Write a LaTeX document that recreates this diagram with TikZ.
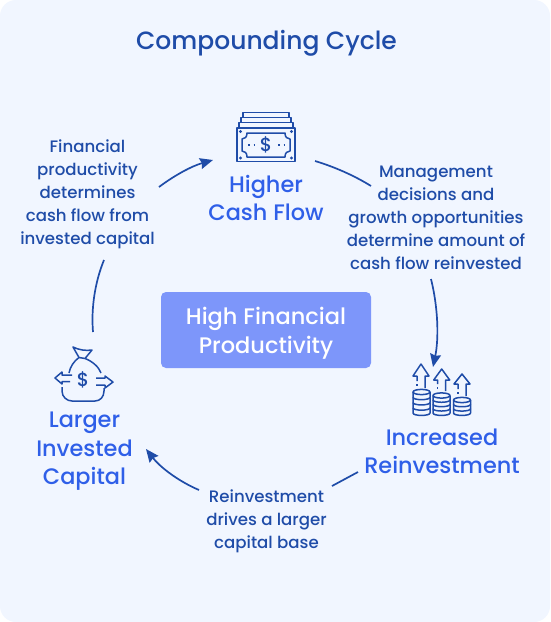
\documentclass[tikz,border=0pt]{standalone}
\usepackage{fontspec}
\setmainfont{Poppins}[UprightFont=* Medium]
\usetikzlibrary{arrows.meta}
\definecolor{bgc}{HTML}{F1F6FF}
\definecolor{navy}{HTML}{1F4CA8}
\definecolor{blu}{HTML}{2F5FE8}
\definecolor{boxc}{HTML}{7D96FA}
\tikzset{
 lab/.style={align=center,text=navy,font=\fontsize{16.6}{23}\selectfont,inner sep=0pt},
 big/.style={align=center,text=blu,font=\fontsize{22.4}{28.5}\selectfont,inner sep=0pt},
 ico/.style={draw=navy,line width=1.5pt,line join=round},
 cyc/.style={draw=navy,line width=1.7pt,-{Stealth[length=13pt,width=11pt,inset=1.5pt]}},
 cycn/.style={draw=navy,line width=1.7pt},
 dollar/.style={text=navy,font=\fontsize{19}{19}\selectfont,inner sep=0pt}
}
\newcommand{\coinstack}[4]{% cx, top y, bottom y, n
 \pgfmathsetmacro{\bandh}{(#3-#2)/#4}
 \draw[ico,fill=bgc] (#1,#2) ellipse (8.5pt and 2.6pt);
 \foreach \k in {1,...,#4}{
  \pgfmathsetmacro{\ya}{#2+(\k-1)*\bandh}
  \pgfmathsetmacro{\yb}{#2+\k*\bandh}
  \draw[ico] ({#1-8.5},\ya) -- ({#1-8.5},\yb) .. controls ({#1-8.5},{\yb+3.2}) and ({#1+8.5},{\yb+3.2}) .. ({#1+8.5},\yb) -- ({#1+8.5},\ya);
 }
}
\newcommand{\growarrow}[5]{% cx, tip y, wing y, right stem end, left stem end
 \draw[ico] ({#1-4},#5) -- ({#1-4},#3) -- ({#1-8},#3) -- (#1,#2) -- ({#1+8},#3) -- ({#1+4},#3) -- ({#1+4},#4);
 \draw[ico] ({#1-4},{#5+3}) -- ({#1-4},{#5+5});
}
\begin{document}
\begin{tikzpicture}[x=1pt,y=-1pt]
\useasboundingbox (0,0) rectangle (550,622);
\fill[white] (0,0) rectangle (550,622);
\fill[bgc,rounded corners=16pt] (0,0) rectangle (550,622);
\node[text=navy,font=\fontsize{25}{30}\selectfont,inner sep=0pt] (title) at (266.5,43) {Compounding Cycle};
\node[fill=boxc,rounded corners=5pt,minimum width=210pt,minimum height=76pt,inner sep=0pt] (center) at (266,330) {};
\node[align=center,text=white,inner sep=0pt,font=\fontsize{22.5}{28.5}\selectfont] (centertext) at (266,333) {High Financial\\Productivity};
\node[big] (hcf) at (266,198) {Higher\\Cash Flow};
\node[big] (inv) at (442,451.5) {Increased\\Reinvestment};
\node[big] (cap) at (84.5,451.5) {Larger\\Invested\\Capital};
\node[lab] (l1) at (87.5,194) {Financial\\productivity\\determines\\cash flow from\\invested capital};
\node[lab] (l2) at (436,217.5) {Management\\decisions and\\growth opportunities\\determine amount of\\cash flow reinvested};
\node[lab] (l3) at (266.5,521) {Reinvestment\\drives a larger\\capital base};
% cycle arrows
\coordinate (a1s) at (93,332); \coordinate (a1e) at (104,260);
\draw[cycn] (a1s) .. controls (91,308) and (95,282) .. (a1e);
\coordinate (a2s) at (159,187); \coordinate (a2e) at (213,160);
\draw[cyc] (a2s) .. controls (175,175) and (192,166) .. (a2e);
\coordinate (a3s) at (315,161); \coordinate (a3e) at (371,186);
\draw[cycn] (a3s) .. controls (335,167) and (355,176) .. (a3e);
\coordinate (a4s) at (431,279); \coordinate (a4e) at (433,367);
\draw[cyc] (a4s) .. controls (438,307) and (439,338) .. (a4e);
\coordinate (a5s) at (358,472); \coordinate (a5e) at (332,486);
\draw[cycn] (a5s) -- (a5e);
\coordinate (a6s) at (199,490); \coordinate (a6e) at (146,449);
\draw[cyc] (a6s) .. controls (178,481) and (160,467) .. (a6e);
% cash icon
\begin{scope}[ico]
\draw (243,118) -- (243,112.5) -- (289,112.5) -- (289,118);
\draw (241,122) -- (241,117.5) -- (291,117.5) -- (291,122);
\draw (239,128) -- (239,122.5) -- (293,122.5) -- (293,128);
\draw (237,128) rectangle (295,161.5);
\draw (247,133) -- (285,133) .. controls (285,137) and (287,139) .. (290,139) -- (290,151) .. controls (287,151) and (285,153) .. (285,157) -- (247,157) .. controls (247,153) and (245,151) .. (242,151) -- (242,139) .. controls (245,139) and (247,137) .. (247,133) -- cycle;
\draw[dash pattern=on 2pt off 3.5pt] (248,145) -- (254,145) (278,145) -- (284,145);
\end{scope}
\node[dollar] (d1) at (266,145) {\$};
\foreach \p in {(240.5,131.5),(291.5,131.5),(240.5,158),(291.5,158)} \fill[navy] \p circle (1.7pt);
% bag icon
\begin{scope}[ico]
\draw (79,357.5) -- (73,347) .. controls (79,350) and (86,351) .. (92,350) -- (85,358.5) -- cycle;
\draw (79,357.5) .. controls (74,361) and (70,367) .. (69,373);
\draw (85,358.5) .. controls (92,361) and (99,367) .. (101,373);
\draw (62,387) -- (62,391) .. controls (62,397) and (67,401) .. (72,401) -- (95,401) .. controls (100,401) and (104,397) .. (104,391) -- (104,388);
\draw (72,375) -- (62,375) -- (62,372) -- (55,378) -- (62,384) -- (62,381.5) -- (70,381.5);
\draw (96,378) -- (105,378) -- (105,376) -- (113,382) -- (105,388) -- (105,385) -- (96,385);
\end{scope}
\node[dollar] (d2) at (83,380) {\$};
% stacks icon
\coinstack{421.5}{392}{413}{4}
\coinstack{441.5}{395.5}{413}{4}
\coinstack{462}{400}{413}{3}
\growarrow{421}{364}{376}{388}{381}
\growarrow{441.7}{369}{380}{391}{384}
\growarrow{462}{374}{384}{396}{389}
\end{tikzpicture}
\end{document}
